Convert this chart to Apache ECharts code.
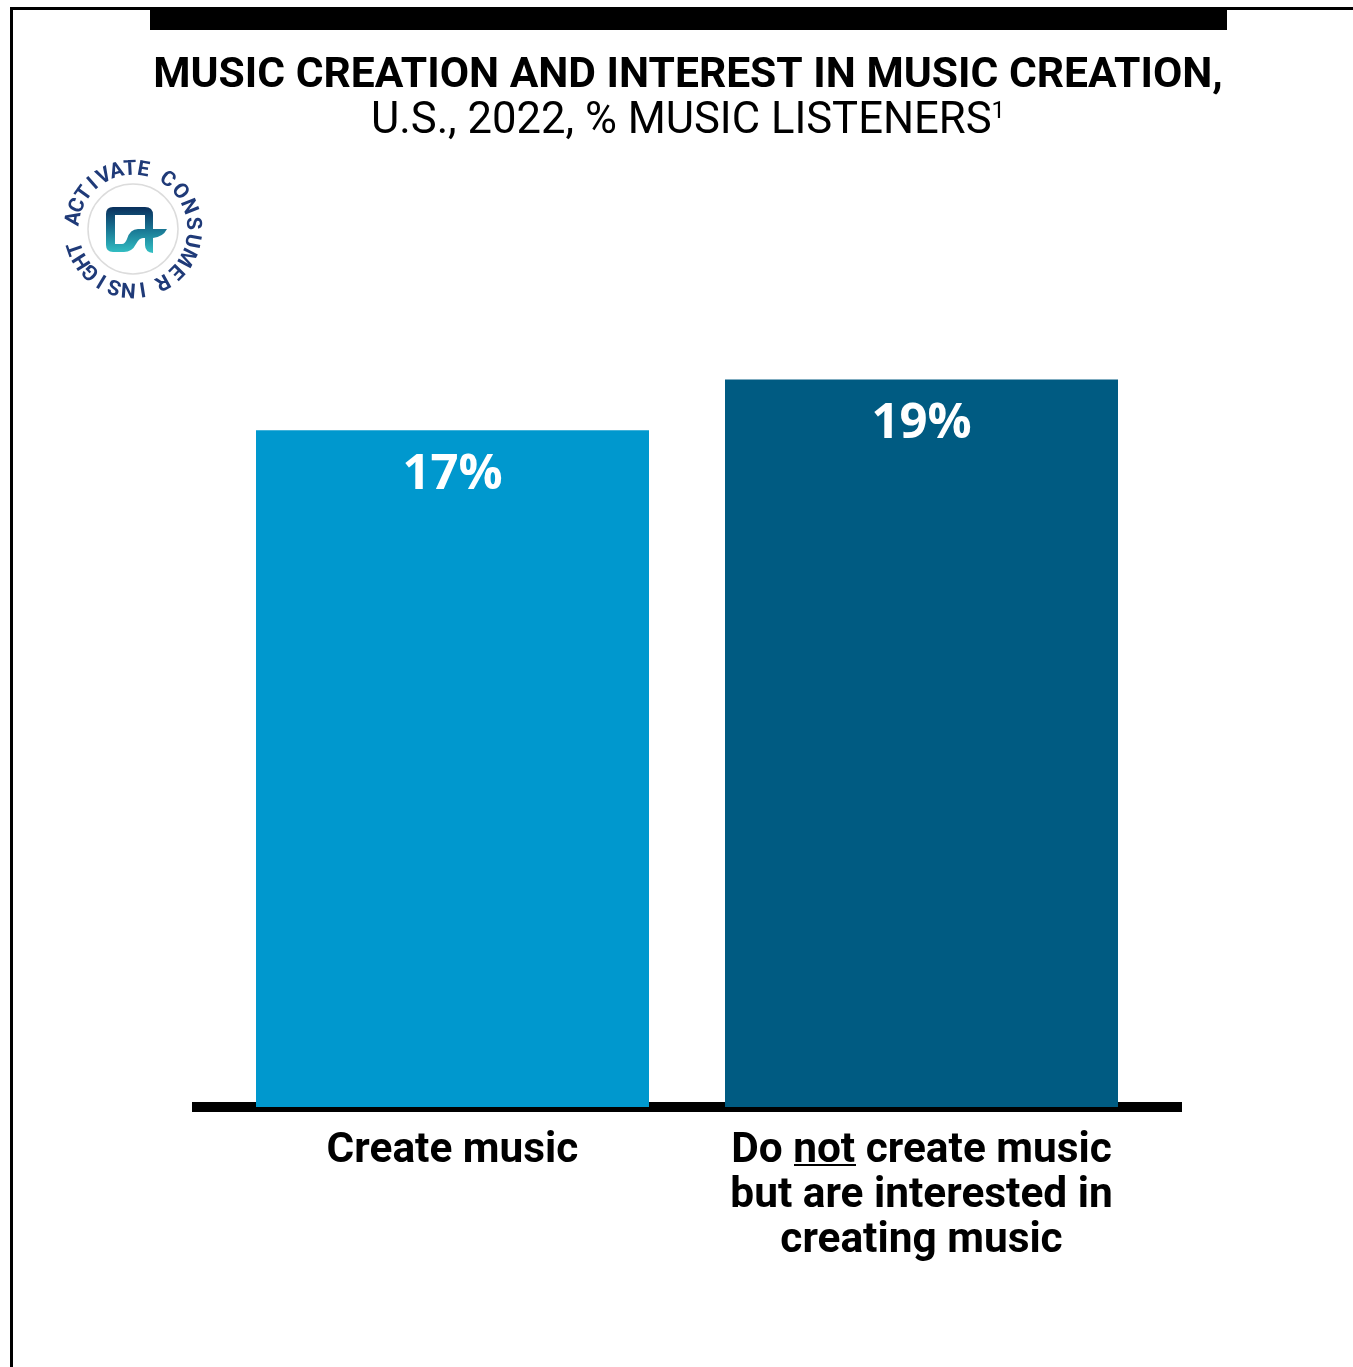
<!DOCTYPE html>
<html>
<head>
<meta charset="utf-8">
<style>html,body{margin:0;padding:0;background:#fff}#c{width:1353px;height:1367px}</style>
<script src="https://cdn.jsdelivr.net/npm/echarts@6/dist/echarts.min.js"></script>
</head>
<body>
<div id="c"></div>
<script>
var categories = ['Create music', 'Do {u|not} create music\nbut are interested in\ncreating music'];
var values = [17.4, 18.7];
var valueLabels = ['17%', '19%'];
var barColors = ['#0098ce', '#005b82'];
var titleMain = 'MUSIC CREATION AND INTEREST IN MUSIC CREATION,';
var titleSub = 'U.S., 2022, % MUSIC LISTENERS{s|1}';
var logoWords = [
  {t: 'ACTIVATE', a0: -80, a1: 10},
  {t: 'CONSUMER', a0: 35, a1: 151},
  {t: 'INSIGHT', a0: 171, a1: 251}
];

var chart = echarts.init(document.getElementById('c'), null, {renderer: 'canvas'});

echarts.graphic.registerShape('logoMark', echarts.graphic.extendPath(
  'M113 207 H145 Q153 207 153 215 V229 H167 Q163 237 153 238 V253 Q145 252 145 245 V238 H143 Q139 238 136 244 Q132 252 124 252 H113 Q106 252 106 245 V214 Q106 207 113 207 Z ' +
  'M115 215 V244 H122 Q125 244 127 239 Q130 229 138 229 H145 V215 Z', {}));

var graphics = [
  {type: 'rect', shape: {x: 10, y: 7, width: 3, height: 1360}, style: {fill: '#000'}, silent: true},
  {type: 'rect', shape: {x: 10, y: 7, width: 1343, height: 3}, style: {fill: '#000'}, silent: true},
  {type: 'rect', shape: {x: 150, y: 7, width: 1077, height: 23}, style: {fill: '#000'}, silent: true},
  {type: 'rect', shape: {x: 192, y: 1102, width: 990, height: 10}, style: {fill: '#000'}, silent: true},
  {type: 'rect', shape: {x: 794, y: 1164, width: 62, height: 2}, style: {fill: '#000'}, silent: true},
  {type: 'circle', shape: {cx: 133, cy: 229, r: 45}, style: {fill: '#fff', stroke: '#dcdcdc', lineWidth: 1.5}, silent: true},
  {type: 'logoMark',
    style: {fill: new echarts.graphic.LinearGradient(0, 0, 0, 1, [
      {offset: 0, color: '#0a2f5c'}, {offset: 0.45, color: '#17708f'}, {offset: 1, color: '#33c0c4'}
    ])}, silent: true}
];
logoWords.forEach(function (w) {
  var n = w.t.length;
  for (var i = 0; i < n; i++) {
    var deg = w.a0 + (w.a1 - w.a0) * i / (n - 1);
    var rad = deg * Math.PI / 180;
    graphics.push({
      type: 'text',
      x: 133 + 59.5 * Math.sin(rad),
      y: 229 - 59.5 * Math.cos(rad),
      rotation: -rad,
      silent: true,
      style: {text: w.t[i], fill: '#1f3a78', font: '700 21px Roboto', textAlign: 'center', textVerticalAlign: 'middle'}
    });
  }
});

chart.setOption({
  animation: false,
  backgroundColor: '#fff',
  title: {
    text: titleMain,
    subtext: titleSub,
    left: 683,
    top: 46,
    textAlign: 'center',
    itemGap: -1,
    textStyle: {fontFamily: 'Roboto', fontWeight: 700, fontSize: 42.6, color: '#000', lineHeight: 50},
    subtextStyle: {fontFamily: 'Roboto', fontWeight: 400, fontSize: 43.6, color: '#000', lineHeight: 44,
      rich: {s: {fontFamily: 'Roboto', fontSize: 24, color: '#000', verticalAlign: 'top', lineHeight: 44, padding: [0, 0, 14, 0]}}}
  },
  grid: {left: 218, width: 938, top: 329, height: 778, containLabel: false},
  xAxis: {
    type: 'category',
    data: categories,
    axisLine: {show: false},
    axisTick: {show: false},
    axisLabel: {
      interval: 0,
      margin: 22,
      fontFamily: 'Roboto',
      fontWeight: 700,
      fontSize: 42.4,
      lineHeight: 45,
      color: '#000',
      align: 'center',
      rich: {u: {fontFamily: 'Roboto', fontWeight: 700, fontSize: 42.4, lineHeight: 45, color: '#000'}}
    }
  },
  yAxis: {type: 'value', min: 0, max: 20, interval: 5, show: false, splitLine: {show: false}},
  series: [{
    type: 'bar',
    barWidth: 393,
    data: values.map(function (v, i) { return {value: v, itemStyle: {color: barColors[i]}}; }),
    label: {
      show: true,
      position: 'insideTop',
      distance: 20,
      formatter: function (p) { return valueLabels[p.dataIndex]; },
      fontFamily: 'Open Sans',
      fontWeight: 700,
      fontSize: 49,
      color: '#fff'
    }
  }],
  graphic: graphics
});
</script>
</body>
</html>
